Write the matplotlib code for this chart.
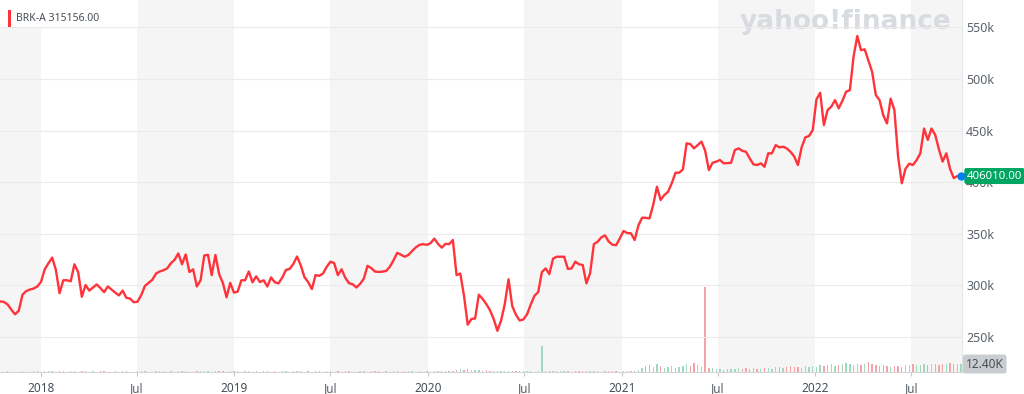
import matplotlib
matplotlib.use('Agg')
import matplotlib.pyplot as plt
import matplotlib.transforms as mtransforms
from matplotlib.patches import Rectangle
import numpy as np
import pandas as pd

plt.rcParams['font.family'] = ['Noto Sans', 'DejaVu Sans']

# ---------------- data ----------------
ticker = "BRK-A"
legend_value = "315156.00"
last_price_label = "406010.00"
last_volume_label = "12.40K"

week_start = "2017-10-16"

price_k = [
    284.5, 284, 281.5, 276.5, 272, 275.5, 291, 294.5, 296, 297,
    299, 303.5, 315.6, 321.5, 327, 315, 292.5, 305, 305, 304,
    320.5, 313, 289, 300.4, 295, 298, 301, 297.5, 293.5, 299,
    296, 293, 290.3, 295, 288, 287.2, 283.7, 284.2, 290.5, 299.5,
    302.5, 305.5, 311.5, 313.5, 314.7, 316.5, 321.5, 324.8, 331, 320.5,
    330, 313, 315.6, 299, 305, 329, 329.7, 310, 329.5, 311,
    302.5, 288.5, 302.5, 293, 294, 305, 305, 313.5, 303, 308.8,
    303.2, 305, 299, 307.8, 303, 302, 307.5, 315, 316, 320.8,
    328, 319.5, 308, 303.3, 296.5, 310, 309.3, 311.5, 318, 323,
    321.7, 310, 315.6, 307.5, 302.2, 301.1, 298, 301.5, 306.5, 319,
    316.8, 313.5, 313, 313.4, 314, 318, 324.3, 331.6, 329.8, 327.8,
    329.5, 333.3, 336.8, 339.3, 340, 339.3, 341, 345.3, 340.3, 336.6,
    340.3, 340, 344, 310, 311.5, 290, 262, 267.5, 268, 291,
    287, 282, 276, 267.5, 256, 266, 282, 306, 280, 271.6,
    266, 267, 272, 281.5, 290, 293.5, 313, 316.5, 311, 326,
    327.8, 327.8, 327.8, 316, 316.5, 323, 320.5, 319.8, 302, 312,
    340, 342.3, 346.5, 348.5, 342.5, 339.5, 339, 345.6, 352.7, 350.8,
    350.5, 344, 358, 365.6, 365.5, 365, 378, 395.6, 382.8, 387.6,
    390.8, 399, 409.2, 409.2, 412.5, 437.7, 437, 432.8, 436, 439.3,
    430.5, 411.8, 418.9, 420, 421.5, 418.3, 418.5, 418.9, 431.2, 432.8,
    430.5, 429.5, 423.2, 417.3, 416.7, 418.3, 415, 428, 428, 436,
    433.8, 434.4, 432.8, 429.5, 425, 416.7, 433.8, 443.5, 444.8, 450.6,
    480.3, 486.7, 455.4, 470, 473.2, 479.6, 471.6, 479, 487.7, 489.3,
    521.6, 541.7, 528, 528.8, 518, 507, 484.5, 479.6, 465, 457,
    481, 470, 425, 399, 413, 418, 416.7, 421.5, 428, 452,
    441, 452, 446, 432, 420, 428, 413, 404, 406, 406.01,
]

volume_k = [
    0.6, 0.5, 0.8, 0.4, 0.7, 0.5, 1.2, 0.6, 0.5, 0.9,
    0.8, 0.6, 1.5, 0.9, 1.0, 0.7, 2.0, 0.8, 0.6, 1.1,
    0.9, 0.7, 0.8, 1.0, 0.6, 0.9, 0.7, 0.8, 1.2, 0.6,
    0.7, 0.9, 0.6, 0.8, 1.0, 0.7, 0.6, 0.9, 1.3, 0.8,
    0.6, 0.7, 1.0, 0.8, 0.9, 0.6, 1.4, 0.7, 0.8, 0.9,
    1.1, 0.7, 0.6, 1.5, 0.8, 1.3, 0.9, 0.7, 1.0, 0.8,
    0.9, 0.6, 1.2, 0.8, 1.0, 0.7, 1.6, 0.9, 0.6, 0.8,
    0.7, 0.9, 0.8, 0.6, 1.0, 0.7, 0.9, 0.8, 0.6, 1.0,
    0.8, 1.3, 0.7, 0.9, 0.6, 0.8, 1.0, 0.7, 0.9, 0.8,
    0.6, 0.9, 0.7, 0.8, 1.0, 0.7, 0.6, 0.9, 0.8, 0.7,
    1.4, 1.2, 0.8, 0.7, 0.9, 0.6, 0.8, 1.0, 0.7, 0.9,
    0.8, 1.6, 0.7, 0.9, 0.6, 0.8, 0.7, 1.0, 0.9, 0.8,
    1.0, 1.4, 2.2, 3.5, 4.5, 3.0, 4.6, 3.8, 2.5, 2.8,
    2.0, 2.6, 1.8, 2.2, 1.5, 1.2, 1.0, 1.4, 0.9, 1.1,
    0.8, 1.0, 1.2, 0.9, 0.7, 1.0, 40.0, 1.3, 0.9, 1.5,
    1.2, 0.8, 1.6, 1.0, 0.7, 1.3, 0.9, 1.1, 1.5, 0.8,
    1.0, 0.9, 0.7, 1.2, 0.8, 1.0, 0.9, 0.7, 1.3, 1.0,
    1.8, 1.5, 2.5, 6.5, 9.0, 11.0, 8.0, 12.5, 10.0, 6.0,
    7.0, 9.5, 6.5, 8.0, 10.0, 12.0, 9.0, 14.0, 11.0, 7.5,
    132.0, 5.5, 6.0, 4.5, 5.0, 3.5, 4.0, 5.0, 4.5, 6.0,
    4.0, 5.5, 4.5, 6.0, 5.0, 4.0, 5.5, 6.5, 5.0, 7.0,
    8.0, 6.5, 7.5, 9.0, 7.0, 8.5, 6.0, 9.5, 7.0, 10.0,
    8.5, 11.0, 9.0, 10.5, 12.0, 10.0, 11.0, 13.0, 14.0, 12.0,
    11.0, 12.0, 10.5, 13.0, 15.5, 12.0, 11.5, 10.0, 11.0, 9.5,
    8.5, 10.0, 9.0, 7.5, 10.5, 11.0, 12.0, 10.5, 11.5, 12.5,
    11.0, 12.0, 12.5, 11.5, 13.0, 12.0, 13.5, 12.5, 11.8, 12.4,
]

y_ticks_k = [250, 300, 350, 400, 450, 500, 550]
x_tick_dates = ["2018-01-01", "2018-07-01", "2019-01-01", "2019-07-01", "2020-01-01",
                "2020-07-01", "2021-01-01", "2021-07-01", "2022-01-01", "2022-07-01"]
x_tick_labels = ["2018", "Jul", "2019", "Jul", "2020", "Jul", "2021", "Jul", "2022", "Jul"]
shaded_spans = [("2017-10-01", "2018-01-01"), ("2018-07-01", "2019-01-01"),
                ("2019-07-01", "2020-01-01"), ("2020-07-01", "2021-01-01"),
                ("2021-07-01", "2022-01-01"), ("2022-07-01", "2022-10-31")]

# ---------------- figure ----------------
dates = pd.date_range(week_start, periods=len(price_k), freq="7D")
prices = np.array(price_k) * 1000.0
vols = np.array(volume_k)

W, H = 1024, 394
fig = plt.figure(figsize=(W / 100, H / 100), dpi=100)
rect = [0, 22 / H, 962 / W, 372 / H]
ax_vol = fig.add_axes(rect)
ax = fig.add_axes(rect, sharex=ax_vol)
ax_vol.set_zorder(1)
ax.set_zorder(2)
ax.patch.set_visible(False)

# shaded half-year bands
for a, b in shaded_spans:
    ax_vol.axvspan(pd.Timestamp(a), pd.Timestamp(b), color="#f5f5f5", lw=0, zorder=0)

# volume bars, coloured by price direction
up = np.concatenate([[True], np.diff(prices) >= 0])
bar_colors = np.where(up, "#9fd9bf", "#f4a3a6")
ax_vol.bar(dates, vols, width=2.6, color=bar_colors, zorder=2, linewidth=0)
ax_vol.set_ylim(0, 576.6)
ax_vol.set_yticks([])

# price line
ax.plot(dates, prices, color="#ff333a", lw=1.7, solid_joinstyle="round", zorder=3)
ax.set_ylim(216.1e3, 576.6e3)
ax.set_xlim(pd.Timestamp("2017-10-15 14:00"), pd.Timestamp("2022-10-04 14:00"))

ax.set_yticks([v * 1000 for v in y_ticks_k])
ax.set_yticklabels([f"{v}k" for v in y_ticks_k])
ax.yaxis.tick_right()
ax.tick_params(axis="y", length=0, pad=3, labelsize=9, labelcolor="#5b636a")
ax.yaxis.grid(True, color="#ebebeb", lw=0.8)
ax.xaxis.grid(False)
ax.tick_params(axis="x", bottom=False, labelbottom=False)

ax_vol.set_xticks([pd.Timestamp(d) for d in x_tick_dates])
ax_vol.set_xticklabels(x_tick_labels)
ax_vol.tick_params(axis="x", length=3, width=0.8, color="#c8c8c8", pad=4, labelsize=8.5,
                   labelcolor="#5b636a")
for lbl in ax_vol.get_xticklabels():
    if lbl.get_text() != "Jul":
        lbl.set_fontweight("bold")
        lbl.set_color("#464e56")

for a in (ax, ax_vol):
    for s in a.spines.values():
        s.set_visible(False)
ax_vol.spines["bottom"].set_visible(True)
ax_vol.spines["bottom"].set_color("#d6d6d6")
ax_vol.spines["bottom"].set_linewidth(0.8)
ax_vol.spines["right"].set_visible(True)
ax_vol.spines["right"].set_color("#e6e6e6")
ax_vol.spines["right"].set_linewidth(0.8)

# watermark
ax_vol.text(740 / W, 1 - 22 / H, "yahoo!finance", transform=fig.transFigure,
            fontsize=19, fontweight="bold", color="#d8dbe0", ha="left", va="center",
            family=["DejaVu Sans"], zorder=1)

# legend box
fig.add_artist(Rectangle((0, 1 - 27 / H), 138 / W, 27 / H, transform=fig.transFigure,
                         facecolor="white", edgecolor="none", zorder=10))
fig.add_artist(Rectangle((7.5 / W, 1 - 27 / H), 3 / W, 17 / H, transform=fig.transFigure,
                         facecolor="#ff333a", edgecolor="none", zorder=11))
fig.text(16 / W, 1 - 18.5 / H, f"{ticker} {legend_value}", fontsize=7.5, color="#464e56",
         ha="left", va="center", zorder=12)

# last price marker and label
tr_p = mtransforms.blended_transform_factory(ax.transAxes, ax.transData)
ax.plot(dates[-1], prices[-1], "o", ms=5, color="#0081f2", clip_on=False, zorder=11)
ax.text(1.005, prices[-1], last_price_label, transform=tr_p, ha="left", va="center",
        fontsize=8.2, color="white", zorder=10, clip_on=False,
        bbox=dict(boxstyle="round,pad=0.22,rounding_size=0.2", fc="#00a562", ec="none"))

tr_v = mtransforms.blended_transform_factory(ax_vol.transAxes, ax_vol.transData)
ax_vol.text(1.004, vols[-1], last_volume_label, transform=tr_v, ha="left", va="center",
            fontsize=8.5, color="#464e56", zorder=10, clip_on=False,
            bbox=dict(boxstyle="round,pad=0.25,rounding_size=0.2", fc="#c9ccd1", ec="none"))

fig.savefig("out.png", dpi=100)
